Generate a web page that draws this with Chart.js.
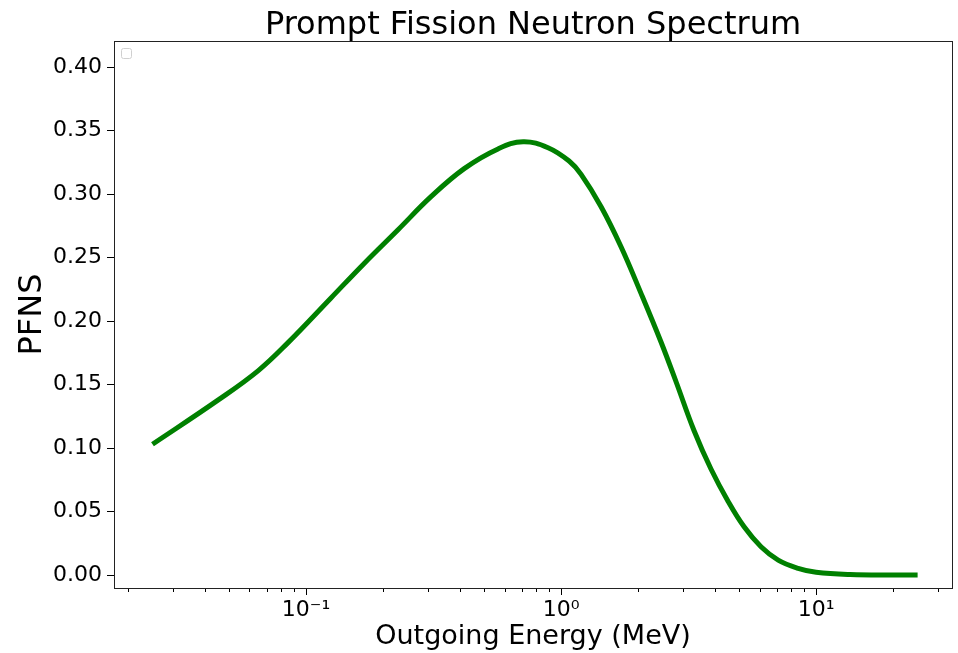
<!DOCTYPE html>
<html>
<head>
<meta charset="utf-8">
<script src="https://cdn.jsdelivr.net/npm/chart.js@4/dist/chart.umd.min.js"></script>
<style>
html,body{margin:0;padding:0;background:#fff;}
#wrap{width:958px;height:653px;}
</style>
</head>
<body>
<div id="wrap"><canvas id="c" width="958" height="653"></canvas></div>
<script>
const chartTitle = 'Prompt Fission Neutron Spectrum';
const energies = [0.025, 0.045, 0.065, 0.085, 0.125, 0.169, 0.229, 0.309, 0.417, 0.566, 0.71, 0.889, 1.075, 1.198, 1.435, 1.718, 2.058, 2.465, 2.826, 3.32, 3.87, 4.52, 5.22, 6.08, 7.1, 8.5, 10, 13.6, 20, 25];
const pfns = [0.103, 0.1375, 0.161, 0.183, 0.218, 0.2454, 0.2717, 0.2979, 0.320, 0.3355, 0.3412, 0.3365, 0.326, 0.3155, 0.290, 0.2585, 0.2218, 0.1835, 0.152, 0.1138, 0.0835, 0.058, 0.038, 0.0223, 0.0118, 0.0053, 0.0022, 0.0004, 0.0, 0.0];
const yTicks = [0.00, 0.05, 0.10, 0.15, 0.20, 0.25, 0.30, 0.35, 0.40];
const xMajorTicks = [0.1, 1, 10];
const xMajorLabels = ['10\u207B\u00B9', '10\u2070', '10\u00B9'];
const xMinorTicks = [0.02,0.03,0.04,0.05,0.06,0.07,0.08,0.09,0.2,0.3,0.4,0.5,0.6,0.7,0.8,0.9,2,3,4,5,6,7,8,9,20,30];

const FONT = 'DejaVu Sans';

const decor = {
  id: 'decor',
  afterDraw(chart) {
    const {ctx, chartArea: a} = chart;
    const xs = chart.scales.x;
    ctx.save();
    // title centred over the plot area
    ctx.fillStyle = '#000';
    ctx.font = '32px "' + FONT + '"';
    ctx.textAlign = 'center';
    ctx.textBaseline = 'alphabetic';
    ctx.fillText(chartTitle, (a.left + a.right) / 2, 34);
    // minor ticks
    ctx.strokeStyle = '#000';
    ctx.lineWidth = 1;
    ctx.beginPath();
    xMinorTicks.forEach(v => {
      const px = Math.round(xs.getPixelForValue(v)) + 0.5;
      ctx.moveTo(px, a.bottom);
      ctx.lineTo(px, a.bottom + 4);
    });
    ctx.stroke();
    // frame
    ctx.strokeStyle = '#222';
    ctx.lineWidth = 1;
    ctx.strokeRect(Math.round(a.left) + 0.5, Math.round(a.top) + 0.5, Math.round(a.right - a.left), Math.round(a.bottom - a.top));
    // empty legend box
    const bx = a.left + 7.5, by = a.top + 7.5, s = 10, r = 2;
    ctx.strokeStyle = '#d0d0d0';
    ctx.fillStyle = 'rgba(255,255,255,0.8)';
    ctx.beginPath();
    ctx.moveTo(bx + r, by);
    ctx.lineTo(bx + s - r, by);
    ctx.quadraticCurveTo(bx + s, by, bx + s, by + r);
    ctx.lineTo(bx + s, by + s - r);
    ctx.quadraticCurveTo(bx + s, by + s, bx + s - r, by + s);
    ctx.lineTo(bx + r, by + s);
    ctx.quadraticCurveTo(bx, by + s, bx, by + s - r);
    ctx.lineTo(bx, by + r);
    ctx.quadraticCurveTo(bx, by, bx + r, by);
    ctx.closePath();
    ctx.fill();
    ctx.stroke();
    ctx.restore();
  }
};

new Chart(document.getElementById('c'), {
  type: 'line',
  data: {
    datasets: [{
      data: energies.map((e, i) => ({x: e, y: pfns[i]})),
      borderColor: '#008000',
      borderWidth: 5,
      pointRadius: 0,
      fill: false,
      tension: 0.4,
      borderCapStyle: 'butt'
    }]
  },
  options: {
    responsive: false,
    animation: false,
    devicePixelRatio: 1,
    layout: {padding: {left: 0, right: 6, top: 41, bottom: 0}},
    plugins: {
      legend: {display: false},
      tooltip: {enabled: false},
      title: {display: false}
    },
    scales: {
      x: {
        type: 'logarithmic',
        min: 0.01766,
        max: 34.1,
        afterBuildTicks(s) { s.ticks = xMajorTicks.map(v => ({value: v, major: true})); },
        afterFit(s) { s.height = 65; },
        grid: {drawOnChartArea: false, tickLength: 7, color: '#000', tickColor: '#000'},
        border: {display: false},
        ticks: {
          autoSkip: false, maxRotation: 0, minRotation: 0,
          color: '#000', padding: 2,
          font: {family: FONT, size: 22},
          callback(v) { const i = xMajorTicks.indexOf(v); return i >= 0 ? xMajorLabels[i] : ''; }
        },
        title: {
          display: true, text: 'Outgoing Energy (MeV)', color: '#000',
          font: {family: FONT, size: 27}, padding: {top: 0, bottom: 0}
        }
      },
      y: {
        min: -0.0102,
        max: 0.4205,
        afterBuildTicks(s) { s.ticks = yTicks.map(v => ({value: v})); },
        afterFit(s) { s.width = 114; },
        grid: {drawOnChartArea: false, tickLength: 7, color: '#000', tickColor: '#000'},
        border: {display: false},
        ticks: {
          color: '#000', padding: 5,
          font: {family: FONT, size: 22},
          callback(v) { return Number(v).toFixed(2); }
        },
        title: {
          display: true, text: 'PFNS', color: '#000',
          font: {family: FONT, size: 32}, padding: {top: 13, bottom: 0}
        }
      }
    }
  },
  plugins: [decor]
});
</script>
</body>
</html>
